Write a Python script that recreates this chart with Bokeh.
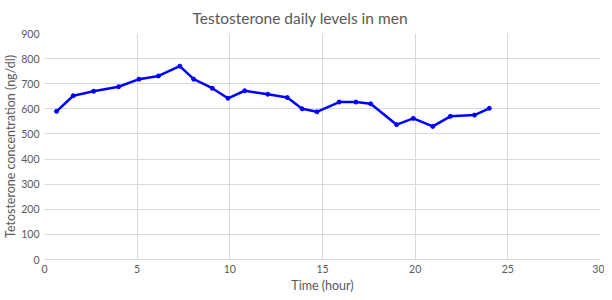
from bokeh.plotting import figure
from bokeh.models import Range1d, ColumnDataSource, Title
from bokeh.embed import file_html
from bokeh.resources import INLINE

hours = [0.65, 1.55, 2.65, 4.0, 5.1, 6.15, 7.3, 8.05, 9.05, 9.9, 10.8, 12.05, 13.1, 13.9, 14.7,
         15.9, 16.8, 17.6, 19.0, 19.9, 20.95, 21.9, 23.2, 24.0]
levels = [590, 652, 670, 688, 718, 731, 770, 718, 682, 642, 672, 658, 645, 600, 588,
          627, 627, 620, 537, 562, 530, 570, 575, 602]
x_ticks = [0, 5, 10, 15, 20, 25, 30]
y_ticks = [0, 100, 200, 300, 400, 500, 600, 700, 800, 900]

FONT = "Lato"
GREY = "#595959"
GRID = "#d9d9d9"

src = ColumnDataSource(dict(x=hours, y=levels))

p = figure(width=604, height=292, output_backend="svg", toolbar_location=None,
           x_range=Range1d(0, 30), y_range=Range1d(0, 900),
           min_border_left=37, min_border_right=4, min_border_top=0, min_border_bottom=0)

p.title.text = "Testosterone daily levels in men"
p.title.align = "left"
p.title.offset = 148
p.title.text_font = FONT
p.title.text_font_size = "15.5px"
p.title.text_font_style = "normal"
p.title.text_color = GREY
p.title.standoff = 13

p.line("x", "y", source=src, line_color="#0000ff", line_width=2.5)
p.scatter("x", "y", source=src, size=4, fill_color="#0000ff", line_color="#0000ff")

p.xaxis.ticker = x_ticks
p.yaxis.ticker = y_ticks
for ax in (p.xaxis[0], p.yaxis[0]):
    ax.major_tick_line_color = None
    ax.minor_tick_line_color = None
    ax.major_tick_out = 0
    ax.major_tick_in = 0
    ax.major_label_text_font = FONT
    ax.major_label_text_font_size = "10.5px"
    ax.major_label_text_color = GREY
    ax.axis_label_text_font = FONT
    ax.axis_label_text_font_size = "12.5px"
    ax.axis_label_text_font_style = "normal"
    ax.axis_label_text_color = GREY
p.yaxis.axis_label = "Tetosterone concentration (ng/dl)"
p.xaxis.axis_line_color = GRID
p.yaxis.axis_line_color = None
p.xaxis.major_label_standoff = 5
p.yaxis.major_label_standoff = 5
p.yaxis.axis_label_standoff = 0

xtitle = Title(text="Time (hour)", align="center", text_font=FONT, text_font_size="12.5px",
               text_font_style="normal", text_color=GREY, standoff=0)
p.add_layout(xtitle, "below")

p.xgrid.grid_line_color = GRID
p.ygrid.grid_line_color = GRID
p.outline_line_color = None
p.background_fill_color = "white"
p.border_fill_color = "white"

open("out.html", "w").write(file_html(p, INLINE))
